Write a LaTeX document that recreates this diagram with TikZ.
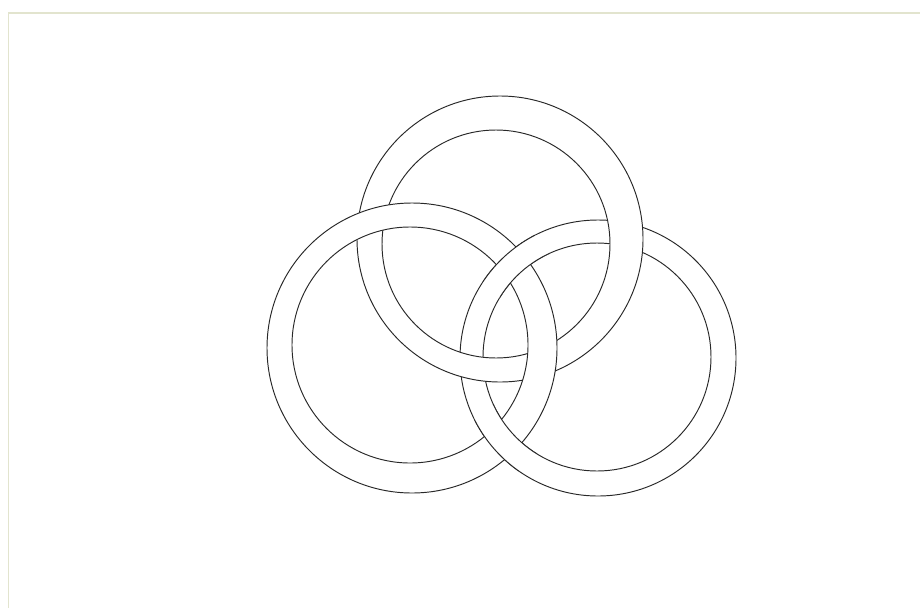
\documentclass[tikz,border=0pt]{standalone}
\definecolor{framecol}{RGB}{226,228,206}
\definecolor{inkcol}{RGB}{40,40,40}
\begin{document}
\begin{tikzpicture}[x=1pt,y=-1pt,
  ring/.style={draw=inkcol, line width=0.95pt, fill=white, even odd rule}]
\useasboundingbox (0,0) rectangle (920,608);
\fill[white] (0,0) rectangle (920,608);
\draw[framecol, line width=1.6pt] (8.5,608) -- (8.5,13) -- (920,13);
% centres
\coordinate (Ro) at (598,358); \coordinate (Ri) at (597,357);
\coordinate (To) at (500,239); \coordinate (Ti) at (496,244);
\coordinate (Lo) at (412,348); \coordinate (Li) at (410,345);
\coordinate (X1) at (515,265); \coordinate (X2) at (505,438);
% right ring (bottom layer)
\path[ring] (Ro) circle[radius=138] (Ri) circle[radius=114];
% top ring over right ring
\path[ring] (To) circle[radius=143] (Ti) circle[radius=114];
% left ring over top ring
\path[ring] (Lo) circle[radius=145] (Li) circle[radius=118];
% right ring over left ring at their two crossings
\begin{scope}
  \clip (X1) circle[radius=36] (X2) circle[radius=36];
  \path[ring] (Ro) circle[radius=138] (Ri) circle[radius=114];
\end{scope}
\end{tikzpicture}
\end{document}
